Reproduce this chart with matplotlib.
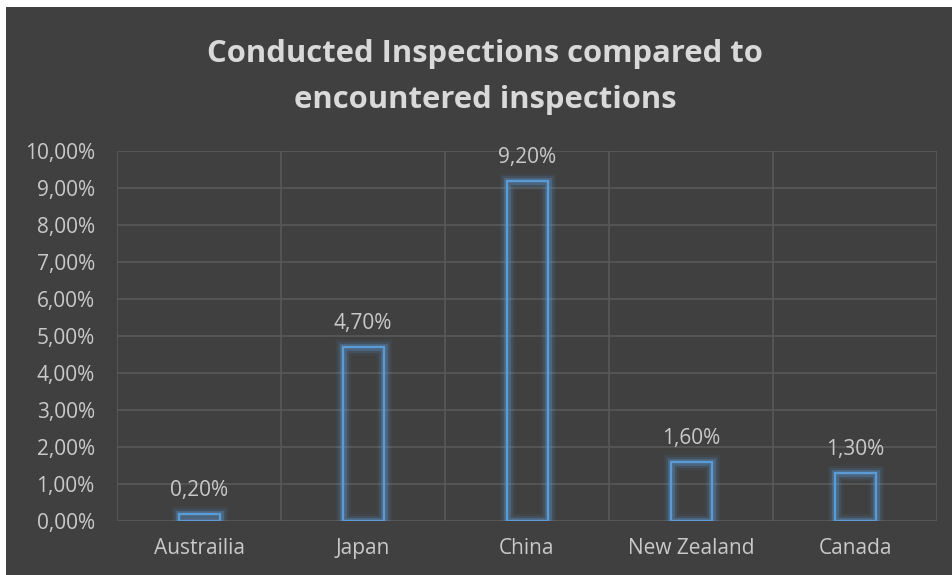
import matplotlib.pyplot as plt
import matplotlib.patheffects as pe
from matplotlib.ticker import FuncFormatter

countries = ['Austrailia', 'Japan', 'China', 'New Zealand', 'Canada']
values = [0.20, 4.70, 9.20, 1.60, 1.30]
yticks = [0, 1, 2, 3, 4, 5, 6, 7, 8, 9, 10]

bg = '#404040'
txt = '#c9c9c9'
title_c = '#d9d9d9'
grid = '#595959'
blue = '#5b9bd5'

plt.rcParams['font.family'] = ['Open Sans', 'DejaVu Sans']

fig = plt.figure(figsize=(9.53, 5.75), dpi=100)
fig.patch.set_facecolor('white')
# dark chart panel, thin white margin at top/left
panel = fig.add_axes([6/953, 0, 947/953, 1 - 7/575])
panel.set_facecolor(bg)
panel.set_xticks([]); panel.set_yticks([])
for s in panel.spines.values():
    s.set_visible(False)

ax = fig.add_axes([117/953, 1 - 521/575, 820/953, 370/575])
ax.set_facecolor(bg)
x = range(len(countries))
glow = [pe.Stroke(linewidth=11, foreground=blue, alpha=0.07),
        pe.Stroke(linewidth=8, foreground=blue, alpha=0.14),
        pe.Stroke(linewidth=5, foreground=blue, alpha=0.28),
        pe.Normal()]
bars = ax.bar(x, values, width=0.25, facecolor='none',
              edgecolor=blue, linewidth=1.7, zorder=3)
for b in bars:
    b.set_path_effects(glow)

for xi, v in zip(x, values):
    ax.annotate(f'{v:.2f}%'.replace('.', ','), (xi, v), xytext=(0, 13),
                textcoords='offset points', ha='center', va='baseline',
                color=txt, fontsize=15)

ax.set_xlim(-0.5, 4.5)
ax.set_ylim(0, 10)
ax.set_yticks(yticks)
ax.yaxis.set_major_formatter(FuncFormatter(lambda v, p: f'{v:.2f}%'.replace('.', ',')))
ax.set_xticks(list(x))
ax.set_xticklabels(countries)
ax.set_xticks([i - 0.5 for i in range(6)], minor=True)
ax.tick_params(axis='both', which='both', length=0, colors=txt, labelsize=15)
ax.tick_params(axis='x', pad=12)
ax.tick_params(axis='y', pad=16)
ax.grid(True, axis='y', which='major', color=grid, lw=1.2)
ax.grid(True, axis='x', which='minor', color=grid, lw=1.2)
ax.set_axisbelow(True)
for s in ax.spines.values():
    s.set_visible(False)

fig.text(485/953, 1 - 62/575, 'Conducted Inspections compared to',
         ha='center', va='baseline', color=title_c, fontsize=22.3, fontweight='bold')
fig.text(485/953, 1 - 108/575, 'encountered inspections',
         ha='center', va='baseline', color=title_c, fontsize=22.3, fontweight='bold')

fig.savefig('out.png', dpi=100, facecolor='white')
